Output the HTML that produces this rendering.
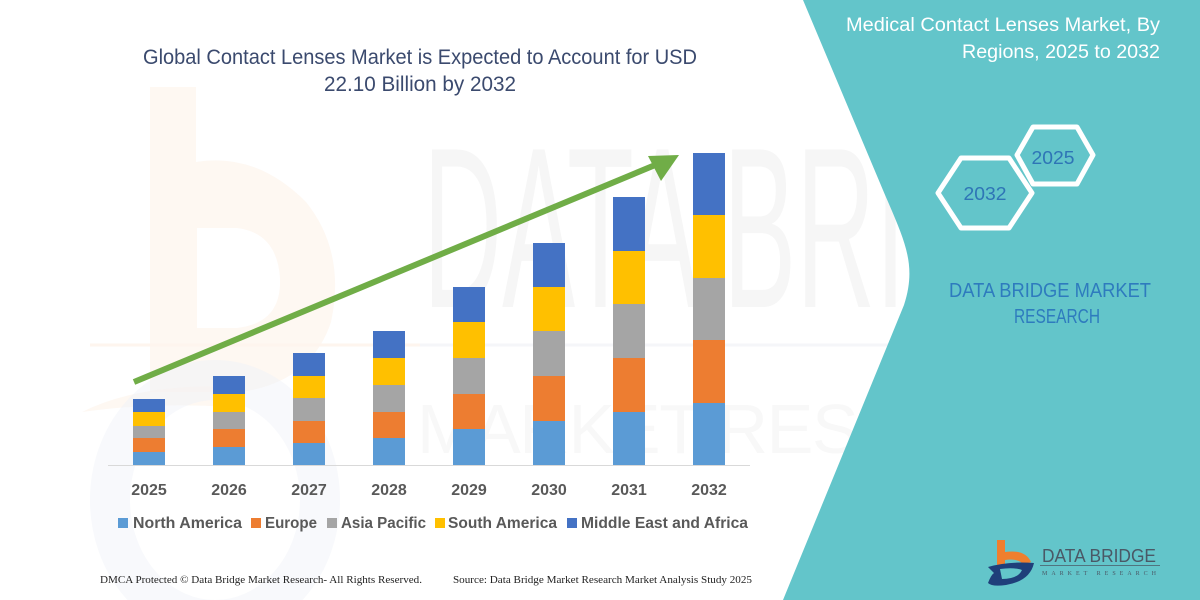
<!DOCTYPE html>
<html><head><meta charset="utf-8"><style>
html,body{margin:0;padding:0;background:#fff;}
svg{display:block;}
</style></head><body>
<svg width="1200" height="600" viewBox="0 0 1200 600" xmlns="http://www.w3.org/2000/svg">
<rect width="1200" height="600" fill="#ffffff"/>
<!-- faint watermarks -->
<g opacity="0.55">
<path d="M150,87 h46 v75 q60,-10 110,40 q40,50 25,120 q-20,60 -90,70 h-91 z M197,228 v100 h40 q45,-5 43,-50 q-3,-45 -43,-50 z" fill="#fbe3cf" fill-rule="evenodd" opacity="0.5"/>
<path d="M82,412 q60,-30 160,-25 l-10,20 q-80,-5 -150,5 z" fill="#fbe3cf" opacity="0.5"/>
<ellipse cx="215" cy="500" rx="105" ry="120" fill="none" stroke="#e3e9f3" stroke-width="40" opacity="0.5"/>
</g>
<text x="423" y="307" font-family="Liberation Sans, sans-serif" font-size="229" fill="#f6f6f6" textLength="720" lengthAdjust="spacingAndGlyphs">DATA BRIDGE</text>
<line x1="90" y1="345" x2="420" y2="345" stroke="#fef5ee" stroke-width="3"/>
<line x1="420" y1="345" x2="1120" y2="345" stroke="#f5f6f9" stroke-width="3"/>
<text x="417" y="453" font-family="Liberation Sans, sans-serif" font-size="70" fill="#f8f8f8" textLength="700" lengthAdjust="spacing" letter-spacing="20">MARKET RESEARCH</text>

<!-- teal panel -->
<path d="M803,0 L880,183 C903,238 918,262 904,305 L783,600 L1200,600 L1200,0 Z" fill="#63C5CA"/>

<!-- left title -->
<g font-family="Liberation Sans, sans-serif" fill="#3B4A6E" font-size="21" text-anchor="middle">
<text x="420" y="64" textLength="554" lengthAdjust="spacingAndGlyphs">Global Contact Lenses Market is Expected to Account for USD</text>
<text x="420" y="91" textLength="192" lengthAdjust="spacingAndGlyphs">22.10 Billion by 2032</text>
</g>

<!-- axis -->
<line x1="108" y1="465.5" x2="750" y2="465.5" stroke="#D9D9D9" stroke-width="1"/>

<!-- bars -->
<g>
<rect x="133" y="452" width="32" height="13" fill="#5B9BD5"/>
<rect x="133" y="438" width="32" height="14" fill="#ED7D31"/>
<rect x="133" y="426" width="32" height="12" fill="#A5A5A5"/>
<rect x="133" y="412" width="32" height="14" fill="#FFC000"/>
<rect x="133" y="399" width="32" height="13" fill="#4472C4"/>
<rect x="213" y="447" width="32" height="18" fill="#5B9BD5"/>
<rect x="213" y="429" width="32" height="18" fill="#ED7D31"/>
<rect x="213" y="412" width="32" height="17" fill="#A5A5A5"/>
<rect x="213" y="394" width="32" height="18" fill="#FFC000"/>
<rect x="213" y="376" width="32" height="18" fill="#4472C4"/>
<rect x="293" y="443" width="32" height="22" fill="#5B9BD5"/>
<rect x="293" y="421" width="32" height="22" fill="#ED7D31"/>
<rect x="293" y="398" width="32" height="23" fill="#A5A5A5"/>
<rect x="293" y="376" width="32" height="22" fill="#FFC000"/>
<rect x="293" y="353" width="32" height="23" fill="#4472C4"/>
<rect x="373" y="438" width="32" height="27" fill="#5B9BD5"/>
<rect x="373" y="412" width="32" height="26" fill="#ED7D31"/>
<rect x="373" y="385" width="32" height="27" fill="#A5A5A5"/>
<rect x="373" y="358" width="32" height="27" fill="#FFC000"/>
<rect x="373" y="331" width="32" height="27" fill="#4472C4"/>
<rect x="453" y="429" width="32" height="36" fill="#5B9BD5"/>
<rect x="453" y="394" width="32" height="35" fill="#ED7D31"/>
<rect x="453" y="358" width="32" height="36" fill="#A5A5A5"/>
<rect x="453" y="322" width="32" height="36" fill="#FFC000"/>
<rect x="453" y="287" width="32" height="35" fill="#4472C4"/>
<rect x="533" y="421" width="32" height="44" fill="#5B9BD5"/>
<rect x="533" y="376" width="32" height="45" fill="#ED7D31"/>
<rect x="533" y="331" width="32" height="45" fill="#A5A5A5"/>
<rect x="533" y="287" width="32" height="44" fill="#FFC000"/>
<rect x="533" y="243" width="32" height="44" fill="#4472C4"/>
<rect x="613" y="412" width="32" height="53" fill="#5B9BD5"/>
<rect x="613" y="358" width="32" height="54" fill="#ED7D31"/>
<rect x="613" y="304" width="32" height="54" fill="#A5A5A5"/>
<rect x="613" y="251" width="32" height="53" fill="#FFC000"/>
<rect x="613" y="197" width="32" height="54" fill="#4472C4"/>
<rect x="693" y="403" width="32" height="62" fill="#5B9BD5"/>
<rect x="693" y="340" width="32" height="63" fill="#ED7D31"/>
<rect x="693" y="278" width="32" height="62" fill="#A5A5A5"/>
<rect x="693" y="215" width="32" height="63" fill="#FFC000"/>
<rect x="693" y="153" width="32" height="62" fill="#4472C4"/>
</g>

<!-- arrow -->
<line x1="134" y1="382" x2="660" y2="163" stroke="#70AD47" stroke-width="6"/>
<polygon points="679,155 648,156 661,181" fill="#70AD47"/>

<!-- year labels -->
<g font-family="Liberation Sans, sans-serif" font-weight="bold" font-size="16" fill="#595959" text-anchor="middle">
<text x="149" y="495">2025</text>
<text x="229" y="495">2026</text>
<text x="309" y="495">2027</text>
<text x="389" y="495">2028</text>
<text x="469" y="495">2029</text>
<text x="549" y="495">2030</text>
<text x="629" y="495">2031</text>
<text x="709" y="495">2032</text>
</g>

<!-- legend -->
<g font-family="Liberation Sans, sans-serif" font-weight="bold" font-size="16" fill="#595959">
<rect x="118" y="518" width="10" height="10" fill="#5B9BD5"/>
<text x="133" y="528" textLength="109" lengthAdjust="spacingAndGlyphs">North America</text>
<rect x="251" y="518" width="10" height="10" fill="#ED7D31"/>
<text x="265" y="528" textLength="52" lengthAdjust="spacingAndGlyphs">Europe</text>
<rect x="327" y="518" width="10" height="10" fill="#A5A5A5"/>
<text x="341" y="528" textLength="85" lengthAdjust="spacingAndGlyphs">Asia Pacific</text>
<rect x="435" y="518" width="10" height="10" fill="#FFC000"/>
<text x="448" y="528" textLength="109" lengthAdjust="spacingAndGlyphs">South America</text>
<rect x="567" y="518" width="10" height="10" fill="#4472C4"/>
<text x="581" y="528" textLength="167" lengthAdjust="spacingAndGlyphs">Middle East and Africa</text>
</g>

<!-- footer -->
<g font-family="Liberation Serif, serif" font-size="11" fill="#222222">
<text x="100" y="583" textLength="322" lengthAdjust="spacingAndGlyphs">DMCA Protected © Data Bridge Market Research-  All Rights Reserved.</text>
<text x="453" y="583" textLength="299" lengthAdjust="spacingAndGlyphs">Source: Data Bridge Market Research  Market Analysis Study 2025</text>
</g>

<!-- right title -->
<g font-family="Liberation Sans, sans-serif" font-size="19" fill="#ffffff" text-anchor="end">
<text x="1160" y="31" textLength="314" lengthAdjust="spacingAndGlyphs">Medical Contact Lenses Market, By</text>
<text x="1160" y="58" textLength="198" lengthAdjust="spacingAndGlyphs">Regions, 2025 to 2032</text>
</g>

<!-- hexagons -->
<polygon points="1017,155 1033,127 1077,127 1093,155 1077,184 1033,184" fill="none" stroke="#ffffff" stroke-width="5" stroke-linejoin="round"/>
<polygon points="938,193 961,158 1009,158 1032,193 1009,228 961,228" fill="none" stroke="#ffffff" stroke-width="5" stroke-linejoin="round"/>
<g font-family="Liberation Sans, sans-serif" font-size="18" fill="#2E75B6" text-anchor="middle">
<text x="1053" y="164" textLength="43" lengthAdjust="spacingAndGlyphs">2025</text>
<text x="985" y="200" textLength="43" lengthAdjust="spacingAndGlyphs">2032</text>
</g>

<!-- DBMR text -->
<g font-family="Liberation Sans, sans-serif" font-size="20" fill="#2E7BBE" text-anchor="middle">
<text x="1050" y="297" textLength="202" lengthAdjust="spacingAndGlyphs">DATA BRIDGE MARKET</text>
<text x="1057" y="323" textLength="86" lengthAdjust="spacingAndGlyphs">RESEARCH</text>
</g>

<!-- logo -->
<g>
<path d="M997,540 h8 v12 q20,-3 26,10 l-7,3 q-5,-7 -19,-5 v7 h-8 z" fill="#F07F2E"/>
<path d="M988,567 q20,-6 46,-4 q-4,18 -28,22 q-14,2 -18,-2 q3,-8 6,-10 z" fill="#1F3F7A"/>
<path d="M1000,569 q14,-2 22,1 q-4,9 -20,9 z" fill="#63C5CA"/>
<text x="1042" y="562" font-family="Liberation Sans, sans-serif" font-size="18" fill="#4A5866" textLength="114" lengthAdjust="spacingAndGlyphs">DATA BRIDGE</text>
<line x1="1040" y1="565.5" x2="1160" y2="565.5" stroke="#4A5866" stroke-width="0.8"/>
<text x="1042" y="575" font-family="Liberation Serif, serif" font-size="6" fill="#4A5866" textLength="114" lengthAdjust="spacing">MARKET RESEARCH</text>
</g>
</svg>
</body></html>
